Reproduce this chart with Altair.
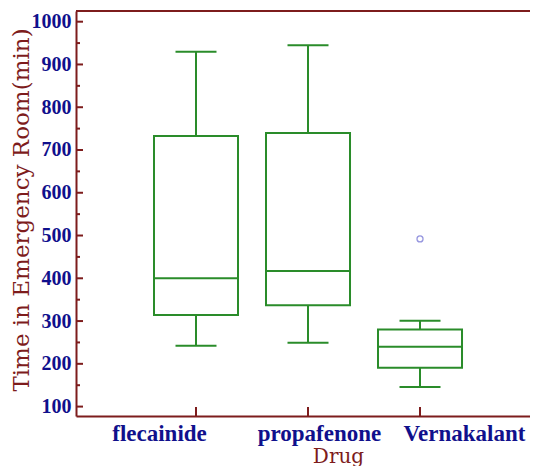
import altair as alt
import pandas as pd

drugs = ["flecainide", "propafenone", "Vernakalant"]
positions = [1, 2, 3]
whisker_low = [242, 249, 146]
q1 = [314, 337, 191]
median = [400, 417, 240]
q3 = [733, 740, 280]
whisker_high = [930, 945, 301]
outlier_drug = [3]
outlier_value = [492]

y_major = [100, 200, 300, 400, 500, 600, 700, 800, 900, 1000]
y_minor = [150, 250, 350, 450, 550, 650, 750, 850, 950]

W, H = 454, 405
AXIS = "#7d1c1c"
LABEL = "#10108c"
GREEN = "#2a8c2a"
LFONT = "Liberation Serif"
TFONT = "DejaVu Serif"

df = pd.DataFrame({
    "drug": drugs, "pos": positions, "lo": whisker_low, "q1": q1,
    "med": median, "q3": q3, "hi": whisker_high,
})
out = pd.DataFrame({"pos": outlier_drug, "v": outlier_value})
ymaj = pd.DataFrame({"v": y_major})
ymin = pd.DataFrame({"v": y_minor})

label_expr = ("datum.value == 1 ? '%s' : datum.value == 2 ? '%s' : "
              "datum.value == 3 ? '%s' : ''") % tuple(drugs)

xs = alt.Scale(domain=[-0.0714, 3.982], nice=False, zero=False)
ys = alt.Scale(domain=[78, 1025], nice=False, zero=False)

x_axis = alt.Axis(
    values=positions, labelExpr=label_expr, ticks=False, grid=False,
    domainColor=AXIS, domainWidth=2, labelColor=LABEL, labelFont=LFONT,
    labelFontSize=23, labelFontWeight="bold", labelPadding=24,
    labelBaseline="alphabetic", labelOverlap=False, labelFlush=False,
    labelOffset={"condition": [
        {"test": "datum.value == 1", "value": -37},
        {"test": "datum.value == 3", "value": 44}], "value": 11},
    title="Drug", titleColor=AXIS,
    titleFont=TFONT, titleFontSize=20, titleFontWeight="normal",
    titleX=262, titleY=46, titleBaseline="alphabetic", titleAlign="center",
)
y_axis = alt.Axis(
    values=y_major, format="d", ticks=False, grid=False, domainColor=AXIS,
    domainWidth=2, labelColor=LABEL, labelFont=LFONT, labelFontSize=20,
    labelFontWeight="bold", labelPadding=5,
    title="Time in Emergency Room(min)", titleColor=AXIS, titleFont=TFONT,
    titleFontSize=23, titleFontWeight="normal", titleAngle=270,
    titleX=-48, titleY=198.5, titleBaseline="alphabetic", titleAlign="center",
)

base = alt.Chart(df)

frame_x = base.mark_point(opacity=0).encode(
    x=alt.X("pos:Q", scale=xs, axis=x_axis),
    y=alt.Y("med:Q", scale=ys, axis=y_axis),
)

whisk_up = base.mark_rule(color=GREEN, strokeWidth=2).encode(
    x=alt.X("pos:Q", scale=xs), y=alt.Y("q3:Q", scale=ys), y2="hi:Q")
whisk_dn = base.mark_rule(color=GREEN, strokeWidth=2).encode(
    x=alt.X("pos:Q", scale=xs), y=alt.Y("lo:Q", scale=ys), y2="q1:Q")

box = base.transform_calculate(
    bl="datum.pos - 0.375", br="datum.pos + 0.375"
).mark_rect(fill="white", stroke=GREEN, strokeWidth=2).encode(
    x=alt.X("bl:Q", scale=xs), x2="br:Q",
    y=alt.Y("q1:Q", scale=ys), y2="q3:Q")

med_line = base.transform_calculate(
    bl="datum.pos - 0.375", br="datum.pos + 0.375"
).mark_rule(color=GREEN, strokeWidth=2).encode(
    x=alt.X("bl:Q", scale=xs), x2="br:Q", y=alt.Y("med:Q", scale=ys))

caps_hi = base.transform_calculate(
    cl="datum.pos - 0.183", cr="datum.pos + 0.183"
).mark_rule(color=GREEN, strokeWidth=2).encode(
    x=alt.X("cl:Q", scale=xs), x2="cr:Q", y=alt.Y("hi:Q", scale=ys))
caps_lo = base.transform_calculate(
    cl="datum.pos - 0.183", cr="datum.pos + 0.183"
).mark_rule(color=GREEN, strokeWidth=2).encode(
    x=alt.X("cl:Q", scale=xs), x2="cr:Q", y=alt.Y("lo:Q", scale=ys))

outliers = alt.Chart(out).mark_point(
    shape="circle", size=36, color="#6a6ad2", strokeWidth=1.3, filled=False
).encode(x=alt.X("pos:Q", scale=xs), y=alt.Y("v:Q", scale=ys))

maj_ticks = alt.Chart(ymaj).mark_rule(color=AXIS, strokeWidth=2).encode(
    y=alt.Y("v:Q", scale=ys), x=alt.value(0), x2=alt.value(7))
min_ticks = alt.Chart(ymin).mark_rule(color=AXIS, strokeWidth=2).encode(
    y=alt.Y("v:Q", scale=ys), x=alt.value(0), x2=alt.value(4))
x_ticks = base.mark_rule(color=AXIS, strokeWidth=2).encode(
    x=alt.X("pos:Q", scale=xs), y=alt.value(H - 9), y2=alt.value(H))
top_line = base.mark_rule(color=AXIS, strokeWidth=2).encode(
    x=alt.value(0), x2=alt.value(W), y=alt.value(0))

chart = alt.layer(
    frame_x, whisk_up, whisk_dn, box, med_line, caps_hi, caps_lo, outliers,
    maj_ticks, min_ticks, x_ticks, top_line,
).properties(
    width=W, height=H,
    autosize=alt.AutoSizeParams(type="none"),
    padding={"left": 68, "top": 3, "right": 0, "bottom": 50},
).configure_view(stroke=None)

chart.save("out.html", embed_options={"renderer": "svg", "actions": False})
